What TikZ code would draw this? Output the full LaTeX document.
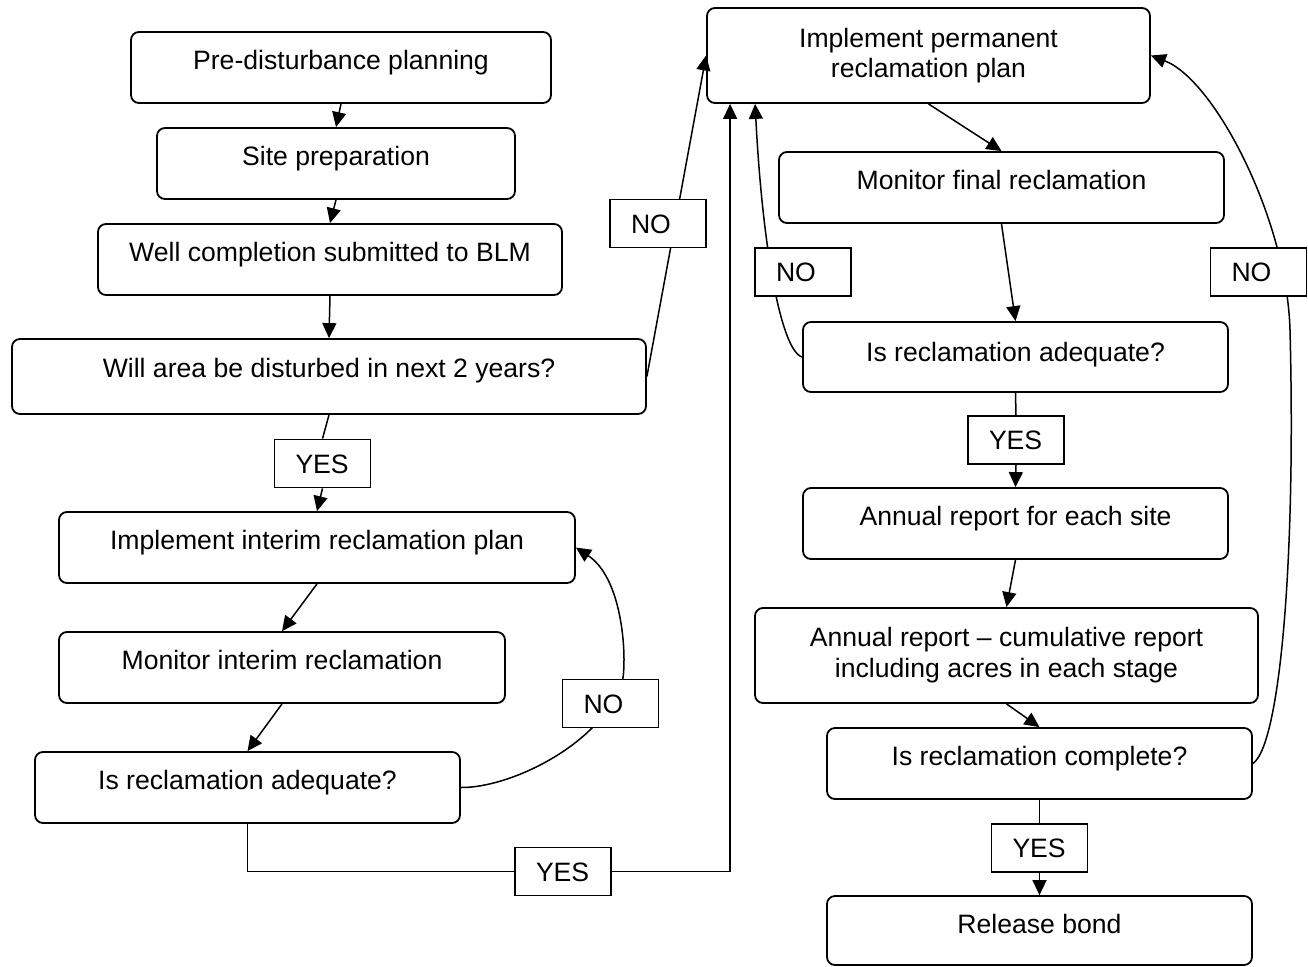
\documentclass[tikz,border=0pt]{standalone}
\usepackage{fontspec}
\setmainfont{Liberation Sans}
\usetikzlibrary{arrows.meta,backgrounds}
\tikzset{
  box/.style={draw, rounded corners=4pt, line width=0.9pt, inner sep=0pt},
  lbl/.style={draw, fill=white, line width=0.9pt, minimum width=48pt, minimum height=24pt,
    text width=27pt, align=left, inner xsep=10.5pt, inner ysep=0pt, text height=9.5pt, text depth=0pt},
  txt/.style={anchor=base, inner sep=0pt},
  ln/.style={line width=0.75pt},
  arr/.style={line width=0.75pt, -{Triangle[length=7.5pt,width=7pt]}}
}
\begin{document}
\begin{tikzpicture}[x=0.5pt,y=-0.5pt,font=\fontsize{13.3}{15.5}\selectfont]
\useasboundingbox (0,0) rectangle (1308,966);
% boxes
\node[box, minimum width=210pt, minimum height=35.5pt] (A) at (341,67.5) {};
\node[box, minimum width=179pt, minimum height=35.5pt] (B) at (336,163.5) {};
\node[box, minimum width=232pt, minimum height=35.5pt] (C) at (330,259.5) {};
\node[box, minimum width=317pt, minimum height=37.5pt] (D) at (329,376.5) {};
\node[box, minimum width=258pt, minimum height=35.5pt] (E) at (317,547.5) {};
\node[box, minimum width=223pt, minimum height=35.5pt] (F) at (282,667.5) {};
\node[box, minimum width=212.5pt, minimum height=35.5pt] (G) at (247.5,787.5) {};
\node[box, minimum width=221.5pt, minimum height=47.5pt] (H) at (928.5,55.5) {};
\node[box, minimum width=222.5pt, minimum height=35.5pt] (I) at (1001.5,187.5) {};
\node[box, minimum width=212.5pt, minimum height=35pt] (J) at (1015.5,357) {};
\node[box, minimum width=212.5pt, minimum height=35.5pt] (K) at (1015.5,523.5) {};
\node[box, minimum width=251.5pt, minimum height=47.5pt] (L) at (1006.5,655.5) {};
\node[box, minimum width=212.5pt, minimum height=35.5pt] (M) at (1039.5,763.5) {};
\node[box, minimum width=212.5pt, minimum height=34.5pt] (N) at (1039.5,930.5) {};
% texts
\node[txt] (At) at (341,69) {Pre-disturbance planning};
\node[txt] (Bt) at (336,165) {Site preparation};
\node[txt] (Ct) at (330,261) {Well completion submitted to BLM};
\node[txt] (Dt) at (329,377) {Will area be disturbed in next 2 years?};
\node[txt] (Et) at (317,549) {Implement interim reclamation plan};
\node[txt] (Ft) at (282,669) {Monitor interim reclamation};
\node[txt] (Gt) at (247.5,789) {Is reclamation adequate?};
\node[txt] (Ht1) at (928.5,47) {Implement permanent};
\node[txt] (Ht2) at (928.5,77) {reclamation plan};
\node[txt] (It) at (1001.5,189) {Monitor final reclamation};
\node[txt] (Jt) at (1015.5,361) {Is reclamation adequate?};
\node[txt] (Kt) at (1015.5,525) {Annual report for each site};
\node[txt] (Lt1) at (1006.5,646) {Annual report -- cumulative report};
\node[txt] (Lt2) at (1006.5,677) {including acres in each stage};
\node[txt] (Mt) at (1039.5,765) {Is reclamation complete?};
\node[txt] (Nt) at (1039.5,933) {Release bond};
% labels
\node[lbl] (yes1) at (322.5,463.5) {YES};
\node[lbl] (no1) at (610.5,703.5) {NO};
\node[lbl] (yes2) at (563,871.5) {YES};
\node[lbl] (no2) at (658,223.5) {NO};
\node[lbl] (no3) at (803,272) {NO};
\node[lbl] (no4) at (1258.5,272) {NO};
\node[lbl] (yes3) at (1016,440) {YES};
\node[lbl] (yes4) at (1039.5,848) {YES};
\coordinate (Hin) at ([xshift=12pt]H.south west);
\coordinate (Hin2) at ([xshift=24.5pt]H.south west);
\coordinate (no1p) at (622,683);
\coordinate (no4p) at (1290,330);
% connectors
\begin{scope}[on background layer]
\draw[arr] (A.south) -- (B.north);
\draw[arr] (B.south) -- (C.north);
\draw[arr] (C.south) -- (D.north);
\draw[ln] (D.south) -- (yes1.north);
\draw[arr] (yes1.south) -- (E.north);
\draw[arr] (E.south) -- (F.north);
\draw[arr] (F.south) -- (G.north);
\draw[arr] (G.east) .. controls (510,788) and (600,745) .. (no1p) .. controls (627,665) and (625,580) .. (E.east);
\draw[ln] (G.south) |- (yes2.west);
\draw[arr] (yes2.east) -| (Hin);
\draw[arr] (D.east) -- (H.west);
\draw[arr] (H.south) -- (I.north);
\draw[arr] (I.south) -- (J.north);
\draw[arr] (J.west) .. controls (780,350) and (762,240) .. (Hin2);
\draw[ln] (J.south) -- (yes3.north);
\draw[arr] (yes3.south) -- (K.north);
\draw[arr] (K.south) -- (L.north);
\draw[arr] (L.south) -- (M.north);
\draw[ln] (M.south) -- (yes4.north);
\draw[arr] (yes4.south) -- (N.north);
\draw[arr] (M.east) .. controls (1280,745) and (1296,560) .. (no4p) .. controls (1287,220) and (1215,80) .. (H.east);
\end{scope}
\end{tikzpicture}
\end{document}
